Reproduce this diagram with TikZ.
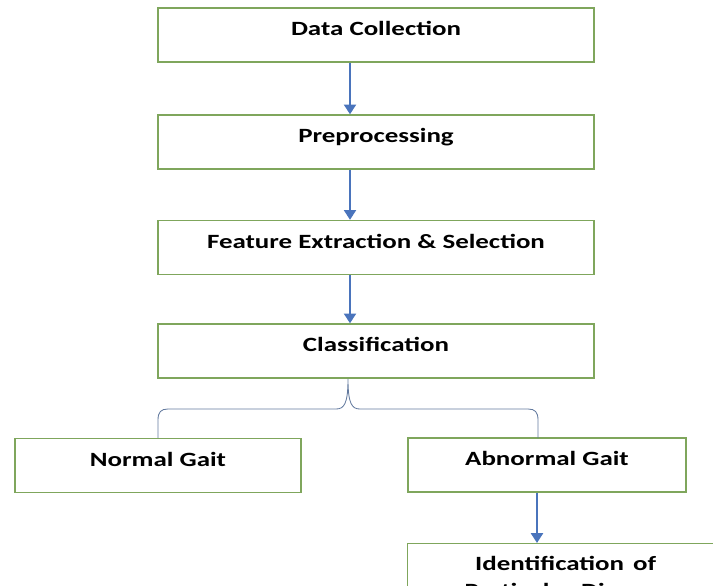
\documentclass[tikz,border=0pt]{standalone}
\usepackage{graphicx}
\usepackage{fontspec}
\setmainfont{Carlito}
\usetikzlibrary{arrows.meta}
\definecolor{GaitBox}{HTML}{7FA65C}
\definecolor{GaitArrow}{HTML}{4A74BC}
\definecolor{GaitBrace}{HTML}{62799E}
\newcommand{\widetext}[1]{\scalebox{1.33}[1]{#1}}

\tikzset{
  stagebox/.style={draw=GaitBox,line width=0.9pt,fill=white,inner xsep=0pt,
    font=\fontsize{14.4}{19.2}\selectfont\bfseries},
  stage/.style={stagebox,inner ysep=0pt,text height=19.56pt,text depth=18.85pt},
  flow/.style={GaitArrow,line width=1.6pt,-{Triangle[width=8.5pt,length=7pt]}},
  fork/.style={GaitBrace,line width=0.6pt},
}

\begin{document}
\begin{tikzpicture}[x=0.025cm,y=-0.025cm]
\path[use as bounding box] (0,0) rectangle (713,586);
% main pipeline
\node[stage,minimum width=310.1pt] (collect) at (376,35) {\widetext{Data Collection}};
\node[stage,minimum width=310.1pt] (prep) at (376,142) {\widetext{Preprocessing}};
\node[stage,minimum width=310.1pt] (feat) at (376,247.5) {\widetext{Feature Extraction \& Selection}};
\node[stage,minimum width=310.1pt] (classify) at (376,351) {\widetext{Classification}};
% outcomes
\node[stage,minimum width=203.4pt] (normal) at (158,465.5) {\widetext{Normal Gait}};
\node[stage,minimum width=197.7pt] (abnormal) at (547,465) {\widetext{Abnormal Gait}};
\node[stagebox,anchor=north west,inner ysep=9.2pt,text width=224.8pt,align=center] (disease) at (407,543)
  {\widetext{Identification of}\\\widetext{Particular Disease}};
\coordinate (spine) at (350,0);
\coordinate (branch) at (537,0);
\draw[flow] (collect.south -| spine) -- (prep.north -| spine);
\draw[flow] (prep.south -| spine) -- (feat.north -| spine);
\draw[flow] (feat.south -| spine) -- (classify.north -| spine);
\draw[flow] (abnormal.south -| branch) -- (disease.north -| branch);
% brace under classification
\draw[fork] (normal.north) -- (158,420) .. controls (158,412) and (161,409) .. (168,409)
  -- (336,409) .. controls (344,409) and (348,404) .. (348,379)
  .. controls (348,404) and (352,409) .. (360,409)
  -- (528,409) .. controls (535,409) and (538,412) .. (538,420) -- (538,438);
\end{tikzpicture}
\end{document}
